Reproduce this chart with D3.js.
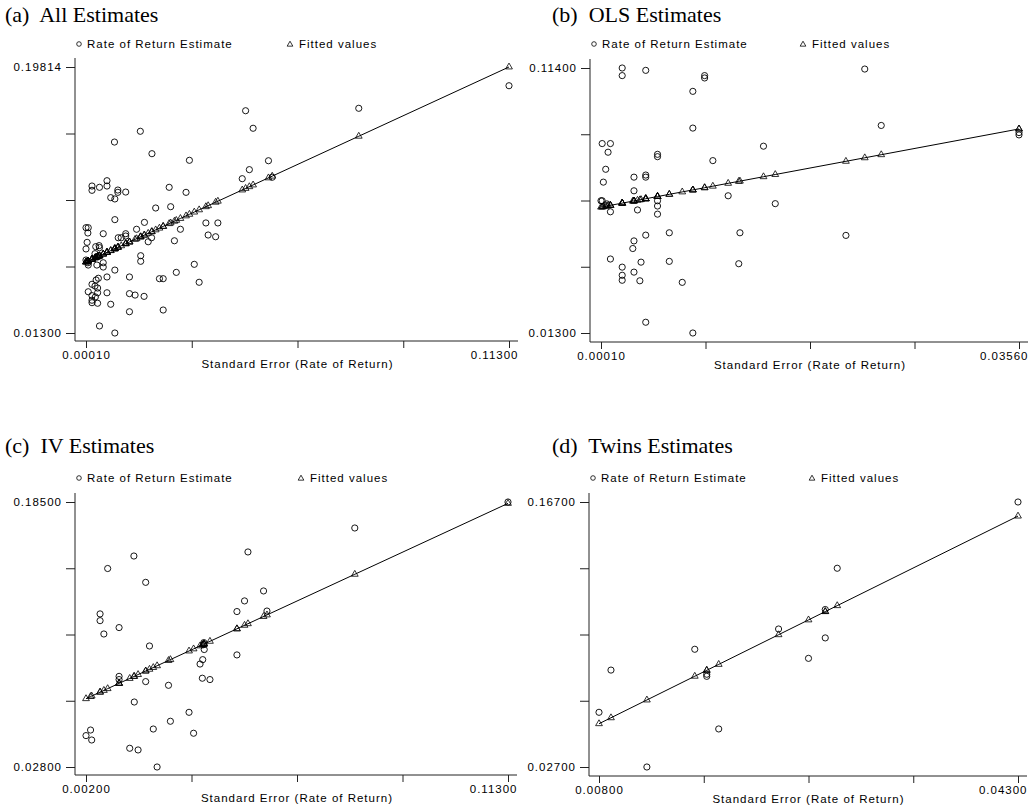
<!DOCTYPE html>
<html>
<head>
<meta charset="utf-8">
<script src="https://cdn.jsdelivr.net/npm/d3@7"></script>
<style>
  body { margin: 0; background: #fff; }
  svg { display: block; }
  .title { font-family: "Liberation Serif", "Times New Roman", serif; font-size: 22px; white-space: pre; }
  .lab, .tick text { font-family: "Liberation Sans", Arial, sans-serif; font-size: 11.5px; letter-spacing: 1px; fill: #000; }
</style>
</head>
<body>
<div id="chart"></div>
<script>
// Standard error / rate of return estimates
var seA = [0.0427,0.0447,0.0146,0.0077,0.0177,0.0277,0.0488,0.0437,0.0418,0.0057,
           0.0057,0.0017,0.0017,0.0037,0.0086,0.0086,0.0107,0.0223,0.0268,0.0067,
           0.0078,0.0187,0.0227,0.0078,0.0157,0.0321,0.0353,0.0001,0.0007,0.0006,
           0.0136,0.0253,0.0047,0.0087,0.0095,0.0107,0.0107,0.0327,0.0347,0.0004,
           0.0237,0.0167,0.0176,0.0001,0.0027,0.0036,0.0037,0.0025,0.0147,0.0147,
           0.0001,0.0006,0.0007,0.0030,0.0047,0.0047,0.0290,0.0078,0.0242,0.0057,
           0.0034,0.0028,0.0117,0.0197,0.0207,0.0303,0.0017,0.0025,0.0032,0.0007,
           0.0032,0.0057,0.0017,0.0026,0.0017,0.0017,0.0032,0.0117,0.0132,0.0156,
           0.0067,0.0117,0.0207,0.0037,0.0078,0.0729,0.1130,0.0498];
var rateA = [0.1677,0.1555,0.1534,0.1459,0.1378,0.1332,0.1329,0.1267,0.1204,0.1190,
             0.1153,0.1153,0.1123,0.1144,0.1125,0.1109,0.1111,0.1144,0.1109,0.1072,
             0.1063,0.1000,0.1009,0.0919,0.0900,0.0896,0.0896,0.0863,0.0863,0.0826,
             0.0852,0.0852,0.0821,0.0793,0.0793,0.0821,0.0805,0.0812,0.0800,0.0761,
             0.0772,0.0765,0.0793,0.0715,0.0731,0.0738,0.0724,0.0682,0.0668,0.0629,
             0.0638,0.0619,0.0603,0.0603,0.0619,0.0589,0.0608,0.0568,0.0552,0.0520,
             0.0511,0.0499,0.0520,0.0508,0.0508,0.0483,0.0469,0.0457,0.0443,0.0417,
             0.0410,0.0410,0.0390,0.0381,0.0358,0.0341,0.0337,0.0404,0.0394,0.0385,
             0.0330,0.0278,0.0290,0.0179,0.0130,0.1694,0.1851,0.1214];

var seB = [0.0019,0.0019,0.0039,0.0089,0.0089,0.0079,0.0079,0.0002,0.0009,0.0007,
           0.0139,0.0049,0.0049,0.0096,0.0005,0.0029,0.0039,0.0039,0.0003,0.0029,
           0.0001,0.0002,0.0006,0.0009,0.0032,0.0049,0.0049,0.0049,0.0109,0.0149,
           0.0039,0.0059,0.0119,0.0029,0.0028,0.0009,0.0019,0.0035,0.0059,0.0118,
           0.0029,0.0019,0.0019,0.0034,0.0070,0.0039,0.0079,0.0225,0.0239,0.0209,
           0.0356,0.0356];
var rateB = [0.1140,0.1111,0.1131,0.1111,0.1102,0.1051,0.0911,0.0852,0.0852,0.0819,
             0.0842,0.0811,0.0802,0.0787,0.0754,0.0724,0.0732,0.0724,0.0705,0.0672,
             0.0634,0.0634,0.0622,0.0592,0.0599,0.0634,0.0614,0.0583,0.0653,0.0623,
             0.0503,0.0512,0.0512,0.0481,0.0452,0.0412,0.0381,0.0400,0.0403,0.0394,
             0.0362,0.0350,0.0331,0.0329,0.0323,0.0171,0.0130,0.1136,0.0921,0.0502,
             0.0894,0.0885];

var seC = [0.0146,0.0446,0.0077,0.0177,0.0487,0.0437,0.0057,0.0057,0.0417,0.0496,
           0.0107,0.0067,0.0187,0.0330,0.0330,0.0331,0.0327,0.0320,0.0417,0.0107,
           0.0107,0.0177,0.0237,0.0326,0.0346,0.0147,0.0291,0.0242,0.0197,0.0303,
           0.0020,0.0032,0.0035,0.0135,0.0157,0.0207,0.1130,0.0727];
var rateC = [0.1530,0.1554,0.1456,0.1374,0.1323,0.1264,0.1187,0.1147,0.1201,0.1204,
             0.1106,0.1068,0.0997,0.1017,0.1005,0.0976,0.0916,0.0890,0.0944,0.0817,
             0.0798,0.0786,0.0764,0.0806,0.0798,0.0665,0.0604,0.0551,0.0505,0.0480,
             0.0466,0.0499,0.0440,0.0391,0.0381,0.0280,0.1850,0.1696];

var seD = [0.0080,0.0090,0.0120,0.0160,0.0170,0.0170,0.0180,0.0230,0.0255,0.0269,0.0269,0.0279,0.0430];
var rateD = [0.0559,0.0782,0.0270,0.0892,0.0760,0.0749,0.0471,0.0999,0.0844,0.0952,0.1102,0.1320,0.1670];

// Fitted line: [intercept, slope]
var fitA = [0.0623, 1.2023];
var fitB = [0.0609, 0.8390];
var fitC = [0.0664, 1.0423];
var fitD = [0.0248, 3.1340];

// Axis ends (min, max) and titles
var xEndsA = [0.0001, 0.113],  yEndsA = [0.013, 0.19814];
var xEndsB = [0.0001, 0.0356], yEndsB = [0.013, 0.114];
var xEndsC = [0.002, 0.113],   yEndsC = [0.028, 0.185];
var xEndsD = [0.008, 0.043],   yEndsD = [0.027, 0.167];
var titles = ["(a)  All Estimates", "(b)  OLS Estimates", "(c)  IV Estimates", "(d)  Twins Estimates"];
var legendLabels = ["Rate of Return Estimate", "Fitted values"];
var xTitle = "Standard Error (Rate of Return)";

var width = 1033, height = 810,
    fmt = d3.format(".5f");

var svg = d3.select("#chart").append("svg")
    .attr("width", width)
    .attr("height", height);

// Layout of each panel
var panels = [
    {se: seA, rate: rateA, fit: fitA, xd: xEndsA, yd: yEndsA, title: titles[0],
     axisX: 75, xr: [86, 509], yr: [333, 67], xAxisY: 341, titleX: 5, titleY: 22, legY: 44, triDx: 215},
    {se: seB, rate: rateB, fit: fitB, xd: xEndsB, yd: yEndsB, title: titles[1],
     axisX: 590, xr: [601, 1019], yr: [333, 68], xAxisY: 342, titleX: 552, titleY: 22, legY: 44, triDx: 213},
    {se: seC, rate: rateC, fit: fitC, xd: xEndsC, yd: yEndsC, title: titles[2],
     axisX: 75, xr: [86, 508], yr: [767, 502], xAxisY: 775, titleX: 5, titleY: 453, legY: 478, triDx: 226},
    {se: seD, rate: rateD, fit: fitD, xd: xEndsD, yd: yEndsD, title: titles[3],
     axisX: 589, xr: [599, 1018], yr: [767, 502], xAxisY: 776, titleX: 552, titleY: 453, legY: 478, triDx: 223}
];

panels.forEach(drawPanel);

function drawPanel(p) {
    var g = svg.append("g");

    var x = d3.scaleLinear().domain(p.xd).range(p.xr);
    var y = d3.scaleLinear().domain(p.yd).range(p.yr);

    // 5 evenly spaced ticks, labels only at the ends
    var xt = d3.range(5).map(function (i) { return p.xd[0] + i * (p.xd[1] - p.xd[0]) / 4; });
    var yt = d3.range(5).map(function (i) { return p.yd[0] + i * (p.yd[1] - p.yd[0]) / 4; });
    var endLabel = function (d, i) { return (i === 0 || i === 4) ? fmt(d) : ""; };

    // Title
    g.append("text")
        .attr("class", "title")
        .attr("x", p.titleX)
        .attr("y", p.titleY)
        .text(p.title);

    // Legend
    g.append("circle")
        .attr("cx", p.axisX + 4)
        .attr("cy", p.legY)
        .attr("r", 2.3)
        .attr("fill", "none")
        .attr("stroke", "#000")
        .attr("stroke-width", 0.8);
    g.append("text")
        .attr("class", "lab")
        .attr("x", p.axisX + 12)
        .attr("y", p.legY + 4)
        .text(legendLabels[0]);
    g.append("path")
        .attr("d", d3.symbol(d3.symbolTriangle, 14)())
        .attr("transform", "translate(" + (p.axisX + p.triDx) + "," + (p.legY + 0.5) + ")")
        .attr("fill", "none")
        .attr("stroke", "#000")
        .attr("stroke-width", 0.8);
    g.append("text")
        .attr("class", "lab")
        .attr("x", p.axisX + p.triDx + 9)
        .attr("y", p.legY + 4)
        .text(legendLabels[1]);

    // Axes
    var yAxis = g.append("g")
        .attr("transform", "translate(" + p.axisX + ",0)")
        .call(d3.axisLeft(y).tickValues(yt).tickSize(9).tickSizeOuter(0).tickPadding(4).tickFormat(endLabel));
    yAxis.select(".domain").remove();

    var xAxis = g.append("g")
        .attr("transform", "translate(0," + p.xAxisY + ")")
        .call(d3.axisBottom(x).tickValues(xt).tickSize(7).tickSizeOuter(0).tickPadding(3).tickFormat(endLabel));
    xAxis.select(".domain").remove();
    // last label pulled in like the original
    xAxis.selectAll(".tick text").filter(function (d, i) { return i === 4; })
        .attr("text-anchor", "end")
        .attr("x", 9);

    g.selectAll(".tick line").attr("stroke", "#222");
    g.selectAll(".tick text").style("font-family", "'Liberation Sans', Arial, sans-serif").style("font-size", "11.5px");

    g.append("line")
        .attr("x1", p.axisX).attr("x2", p.axisX)
        .attr("y1", p.yr[1] - 9).attr("y2", p.xAxisY)
        .attr("stroke", "#222");
    g.append("line")
        .attr("x1", p.axisX).attr("x2", p.xr[1] + 9)
        .attr("y1", p.xAxisY).attr("y2", p.xAxisY)
        .attr("stroke", "#222");

    g.append("text")
        .attr("class", "lab")
        .attr("x", (p.xr[0] + p.xr[1]) / 2)
        .attr("y", p.xAxisY + 27)
        .attr("text-anchor", "middle")
        .text(xTitle);

    // Data
    var pts = p.se.map(function (s, i) {
        return {se: s, rate: p.rate[i], fitted: p.fit[0] + p.fit[1] * s};
    });
    var sorted = pts.slice().sort(function (a, b) { return a.se - b.se; });

    g.append("path")
        .datum(sorted)
        .attr("fill", "none")
        .attr("stroke", "#000")
        .attr("stroke-width", 1)
        .attr("d", d3.line()
            .x(function (d) { return x(d.se); })
            .y(function (d) { return y(d.fitted); }));

    g.selectAll(".fit")
        .data(pts)
        .enter().append("path")
        .attr("class", "fit")
        .attr("d", d3.symbol(d3.symbolTriangle, 20)())
        .attr("transform", function (d) { return "translate(" + x(d.se) + "," + y(d.fitted) + ")"; })
        .attr("fill", "none")
        .attr("stroke", "#000")
        .attr("stroke-width", 0.8);

    g.selectAll(".obs")
        .data(pts)
        .enter().append("circle")
        .attr("class", "obs")
        .attr("cx", function (d) { return x(d.se); })
        .attr("cy", function (d) { return y(d.rate); })
        .attr("r", 3.1)
        .attr("fill", "none")
        .attr("stroke", "#000")
        .attr("stroke-width", 0.9);
}
</script>
</body>
</html>
